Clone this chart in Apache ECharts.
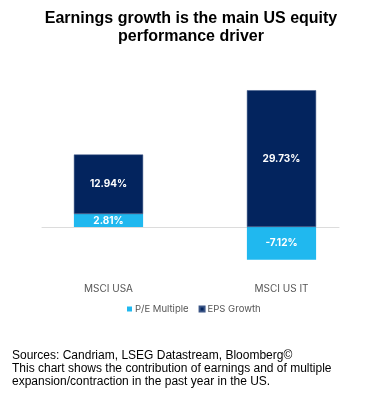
<!DOCTYPE html>
<html><head><meta charset="utf-8">
<script src="https://cdn.jsdelivr.net/npm/echarts@6/dist/echarts.min.js"></script>
<style>html,body{margin:0;padding:0;background:#fff}#c{width:370px;height:399px}</style>
</head><body><div id="c"></div>
<script>
const categories = ['MSCI USA', 'MSCI US IT'];
const peMultiple = [2.81, -7.12];
const epsGrowth = [12.94, 29.73];
const seriesNames = ['P/E Multiple', 'EPS Growth'];

const chart = echarts.init(document.getElementById('c'), null, {renderer: 'canvas'});
const labelFont = {show: true, position: 'inside', color: '#fff', fontFamily: 'Inter', fontWeight: 'bold', fontSize: 10,
  formatter: p => p.value.toFixed(2) + '%'};
chart.setOption({
  animation: false,
  title: [
    {text: 'Earnings growth is the main US equity\nperformance driver', left: 191, textAlign: 'center', top: 10, padding: 0,
     textStyle: {fontFamily: 'Liberation Sans', fontSize: 16, fontWeight: 'bold', color: '#000', lineHeight: 18, align: 'center'}},
    {text: 'Sources: Candriam, LSEG Datastream, Bloomberg©\nThis chart shows the contribution of earnings and of multiple\nexpansion/contraction in the past year in the US.',
     left: 12, top: 349, padding: 0,
     textStyle: {fontFamily: 'Liberation Sans', fontSize: 12, fontWeight: 'normal', color: '#000', lineHeight: 13}}
  ],
  legend: {
    data: seriesNames, left: 127, top: 304, padding: 0, itemWidth: 5, itemHeight: 5, itemGap: 10,
    icon: 'rect', textStyle: {fontFamily: 'Inter', fontSize: 9.5, color: '#555', padding: [0, 0, 0, -2]}
  },
  grid: [
    {left: 22, right: 2, top: 66, bottom: 126},
    {left: 42, right: 31, top: 66, bottom: 126}
  ],
  xAxis: [
    {type: 'category', data: categories, gridIndex: 0, axisLine: {show: false}, axisTick: {show: false},
     axisLabel: {margin: 11, color: '#555', fontFamily: 'Inter', fontSize: 10}},
    {type: 'category', data: categories, gridIndex: 1, axisLine: {show: true, onZero: true, lineStyle: {color: '#dcdcdc', width: 1}},
     axisTick: {show: false}, axisLabel: {show: false}}
  ],
  yAxis: [
    {type: 'value', min: -10, max: 35, gridIndex: 0, show: false, splitLine: {show: false}},
    {type: 'value', min: -10, max: 35, gridIndex: 1, show: false, splitLine: {show: false}}
  ],
  series: [
    {name: seriesNames[0], type: 'bar', stack: 'a', data: peMultiple, barWidth: '40%', xAxisIndex: 0, yAxisIndex: 0,
     itemStyle: {color: '#20b8ef'}, label: labelFont, z: 3},
    {name: seriesNames[1], type: 'bar', stack: 'a', data: epsGrowth, barWidth: '40%', xAxisIndex: 0, yAxisIndex: 0,
     itemStyle: {color: '#03245e', borderColor: '#3a5485', borderWidth: 0.5}, label: labelFont, z: 3}
  ]
});
</script></body></html>
